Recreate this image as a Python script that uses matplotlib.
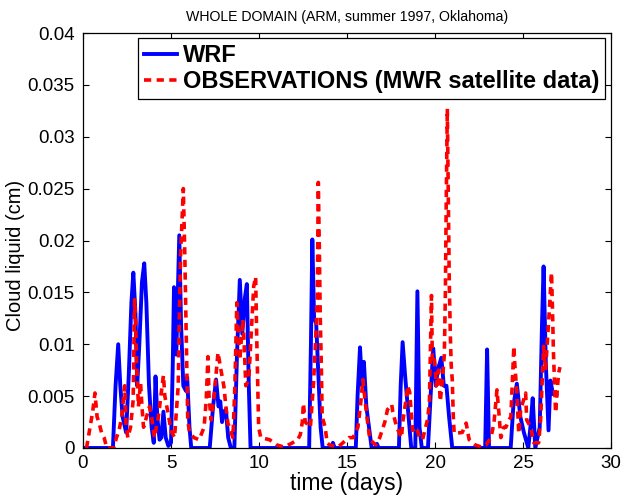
import matplotlib
matplotlib.use("Agg")
import matplotlib.pyplot as plt

plt.rcParams['font.family'] = ['Liberation Sans', 'DejaVu Sans']

# WRF simulated cloud liquid path (cm) against time (days)
wrf_t = [0.0, 1.7, 1.85, 2.0, 2.12, 2.25, 2.45, 2.6, 2.75, 2.86, 2.98, 3.08, 3.2, 3.35,
         3.48, 3.6, 3.75, 3.9, 4.02, 4.12, 4.22, 4.35, 4.45, 4.57, 4.7, 4.85, 5.0,
         5.1, 5.17, 5.3, 5.47, 5.57, 5.7, 5.85, 5.92, 6.05, 6.15,
         7.2, 7.39, 7.56, 7.7, 7.8, 7.9, 8.0, 8.12, 8.25, 8.4,
         8.6, 8.75, 8.91, 9.05, 9.2, 9.31, 9.42, 9.52,
         12.85, 12.95, 13.03, 13.13, 13.25, 13.4, 13.5, 13.62,
         14.1, 14.2, 14.3,
         15.5, 15.6, 15.74, 15.85, 15.96, 16.1, 16.25, 16.4,
         16.6, 16.7, 16.8,
         17.95, 18.05, 18.16, 18.3, 18.5, 18.65,
         18.88, 19.0, 19.12, 19.25,
         19.6, 19.75, 19.9, 20.05, 20.15, 20.36, 20.5, 20.65, 20.8, 20.98,
         22.85, 22.96, 23.07,
         24.3, 24.45, 24.65, 24.85, 25.05, 25.3, 25.42, 25.55, 25.7,
         25.95, 26.08, 26.17, 26.3, 26.45, 26.56, 26.7, 26.9]
wrf_v = [0.0, 0.0, 0.006, 0.0100, 0.006, 0.003, 0.0015, 0.007, 0.014, 0.0169, 0.013, 0.006, 0.010, 0.016,
         0.0178, 0.014, 0.006, 0.002, 0.0005, 0.0069, 0.003, 0.0008, 0.001, 0.0035, 0.001, 0.0002, 0.0005,
         0.008, 0.0155, 0.009, 0.0205, 0.012, 0.006, 0.0055, 0.0068, 0.002, 0.0,
         0.0, 0.004, 0.0066, 0.004, 0.0045, 0.0025, 0.0035, 0.0037, 0.001, 0.0,
         0.0, 0.009, 0.0162, 0.011, 0.0145, 0.0158, 0.006, 0.0,
         0.0, 0.010, 0.0201, 0.0125, 0.012, 0.006, 0.002, 0.0,
         0.0, 0.0005, 0.0,
         0.0, 0.005, 0.0097, 0.006, 0.0083, 0.004, 0.002, 0.0,
         0.0, 0.0004, 0.0,
         0.0, 0.006, 0.0102, 0.007, 0.003, 0.0,
         0.0, 0.0151, 0.002, 0.0,
         0.0, 0.005, 0.0096, 0.006, 0.0075, 0.0087, 0.006, 0.006, 0.003, 0.0,
         0.0, 0.0095, 0.0,
         0.0, 0.004, 0.0062, 0.003, 0.0015, 0.0, 0.002, 0.0048, 0.0,
         0.002, 0.012, 0.0175, 0.008, 0.0017, 0.0065, 0.0052, 0.0051]

# MWR observed cloud liquid path (cm) against time (days)
obs_t = [0.2, 0.3, 0.45, 0.55, 0.68, 0.8, 0.9, 1.05, 1.2, 1.35,
         1.75, 1.9, 2.05, 2.2, 2.37, 2.45, 2.55, 2.7, 2.85, 2.93, 3.0, 3.05, 3.15, 3.27, 3.35, 3.44,
         3.78, 3.9, 4.06, 4.28, 4.57, 4.65, 4.85, 5.0, 5.2, 5.41, 5.47, 5.55, 5.7, 5.78, 5.88, 5.95,
         6.05, 6.3, 6.6, 6.88, 7.0, 7.1, 7.16, 7.28, 7.45, 7.67, 7.84, 8.0, 8.12, 8.23, 8.52,
         8.63, 8.74, 8.8, 8.91, 9.08, 9.14, 9.25, 9.42, 9.7, 9.81, 9.87, 9.93, 9.98,
         10.1, 10.6, 11.0, 11.4, 11.8, 12.2, 12.35,
         12.46, 12.52, 12.63, 12.92, 13.1, 13.2, 13.31, 13.37, 13.43, 13.48, 13.54, 13.59, 13.76, 13.87,
         14.0, 14.5, 15.1, 15.35, 15.62, 15.79, 15.9, 16.0, 16.13, 16.3,
         16.64, 16.86, 17.15, 17.3, 17.54, 17.6, 17.82, 17.99, 18.1, 18.16, 18.27, 18.39, 18.44,
         18.56, 18.67, 18.73, 18.95, 19.12, 19.29, 19.57, 19.68, 19.8, 19.85, 19.97, 20.08, 20.2,
         20.3, 20.42, 20.53, 20.59, 20.64, 20.7, 20.76, 20.81, 20.87, 20.92, 20.98, 21.04, 21.09,
         21.55, 21.77, 21.94, 22.28, 22.62, 22.9, 23.18, 23.35, 23.52, 23.63, 23.74, 23.91, 24.03,
         24.2, 24.31, 24.48, 24.53, 24.65, 24.76, 24.87, 25.15, 25.21, 25.44, 25.61, 25.89, 26.0,
         26.17, 26.28, 26.45, 26.62, 26.68, 26.73, 26.85, 27.02, 27.1]
obs_v = [0.0, 0.001, 0.0025, 0.0035, 0.0053, 0.003, 0.0025, 0.0015, 0.001, 0.0,
         0.0, 0.001, 0.0017, 0.003, 0.006, 0.002, 0.001, 0.002, 0.0046, 0.0143, 0.012, 0.008, 0.004, 0.0063, 0.004, 0.002,
         0.004, 0.003, 0.001, 0.003, 0.007, 0.005, 0.0032, 0.0017, 0.001, 0.006, 0.0124, 0.0188, 0.025, 0.019, 0.0092, 0.0027,
         0.0015, 0.001, 0.0008, 0.002, 0.0046, 0.0088, 0.005, 0.0027, 0.005, 0.0092, 0.0075, 0.006, 0.004, 0.0024, 0.001,
         0.006, 0.014, 0.0117, 0.0085, 0.0124, 0.0107, 0.006, 0.0066, 0.0156, 0.0165, 0.0107, 0.006, 0.002,
         0.001, 0.0008, 0.0003, 0.0001, 0.0004, 0.0008, 0.0013,
         0.0025, 0.0043, 0.0025, 0.002, 0.0063, 0.0098, 0.0143, 0.0256, 0.019, 0.0127, 0.008, 0.003, 0.002, 0.0005,
         0.0003, 0.0001, 0.001, 0.001, 0.002, 0.0045, 0.0066, 0.005, 0.003, 0.0008,
         0.0003, 0.001, 0.0025, 0.0037, 0.0042, 0.0035, 0.002, 0.0014, 0.001, 0.0024, 0.0037, 0.0051, 0.006,
         0.0054, 0.0029, 0.0017, 0.002, 0.001, 0.0008, 0.0027, 0.0043, 0.0147, 0.0082, 0.0085, 0.006, 0.0075,
         0.0045, 0.0065, 0.009, 0.015, 0.024, 0.0327, 0.024, 0.016, 0.011, 0.008, 0.0066, 0.003, 0.0014,
         0.0015, 0.0024, 0.0008, 0.0003, 0.0001, 0.0003, 0.001, 0.0024, 0.0056, 0.0034, 0.001, 0.002, 0.002,
         0.0027, 0.003, 0.0098, 0.0082, 0.0053, 0.0014, 0.0037, 0.0053, 0.0027, 0.002, 0.0005, 0.0005, 0.0027,
         0.0098, 0.0075, 0.012, 0.0169, 0.013, 0.0092, 0.0034, 0.0072, 0.0078]

x_ticks = [0, 5, 10, 15, 20, 25, 30]
y_ticks = [0, 0.005, 0.01, 0.015, 0.02, 0.025, 0.03, 0.035, 0.04]
y_tick_labels = ['0', '0.005', '0.01', '0.015', '0.02', '0.025', '0.03', '0.035', '0.04']

fig = plt.figure(figsize=(6.21, 4.97), dpi=100)
ax = fig.add_axes([83 / 621, 49 / 497, 528 / 621, 415 / 497])

ax.plot(wrf_t, wrf_v, color=(0, 0, 1), lw=2.8, label='WRF', solid_joinstyle='round')
ax.plot(obs_t, obs_v, color=(1, 0, 0), lw=2.6, dashes=(2.0, 1.5),
        label='OBSERVATIONS (MWR satellite data)')

ax.set_xlim(0, 30)
ax.set_ylim(0, 0.04)
ax.set_xticks(x_ticks)
ax.set_yticks(y_ticks)
ax.set_yticklabels(y_tick_labels)
ax.tick_params(direction='in', length=4, width=0.8, top=True, right=True,
               labelsize=13.5)
ax.tick_params(axis='y', pad=6)
ax.tick_params(axis='x', pad=5)
for s in ax.spines.values():
    s.set_linewidth(0.9)

ax.set_xlabel('time (days)', fontsize=16.5, labelpad=0)
ax.set_ylabel('Cloud liquid (cm)', fontsize=14.5)
ax.yaxis.set_label_coords(-0.11, 0.465)
ax.set_title('WHOLE DOMAIN (ARM, summer 1997, Oklahoma)', fontsize=10.2, pad=9)

leg = ax.legend(loc='upper right', bbox_to_anchor=(0.9886, 0.988), borderaxespad=0,
                prop={'weight': 'bold', 'size': 17}, handlelength=1.4, handletextpad=0.25,
                borderpad=0.25, labelspacing=0.15, fancybox=False, framealpha=1,
                edgecolor='black')
leg.get_frame().set_linewidth(0.9)

fig.savefig('out.png', dpi=100)
